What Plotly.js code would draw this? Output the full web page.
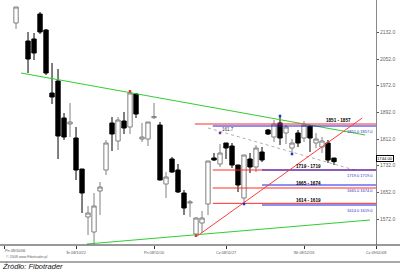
<!DOCTYPE html>
<html><head><meta charset="utf-8">
<script src="https://cdn.plot.ly/plotly-3.0.1.min.js"></script>
<style>html,body{margin:0;padding:0;background:#fff}#chart{width:400px;height:277px}</style>
</head><body><div id="chart"></div>
<script>
// trading-day slot index for each candle
const slots = [0,2,3,4,5,6,7,8,9,10,11,12,13,14,15,16,17,18,19,20,21,22,23,24,25,26,27,28,29,30,31,32,33,34,35,36,37,38,39,40,41,42,43,44,45,46,47,48,49,50,51,52,53];
const opens  = [2160,2106,2112,2187,2139,1950,1986,1875,1857,1815,1722,1578,1533,1656,1719,1860,1806,1866,1848,1947,1812,1812,1876,1854,1677,1752,1719,1650,1620,1527,1560,1617,1755,1737,1800,1791,1734,1635,1752,1728,1773,1839,1818,1860,1830,1785,1830,1815,1851,1800,1788,1800,1755];
const highs  = [2208,2133,2130,2193,2142,2040,2022,1890,1920,1848,1722,1611,1650,1683,1809,1878,1878,1893,1953,1950,1860,1863,1920,1863,1713,1758,1737,1659,1629,1578,1596,1746,1770,1797,1800,1800,1734,1764,1770,1794,1788,1842,1869,1878,1854,1812,1839,1866,1854,1830,1818,1809,1755];
const lows   = [2142,2010,2049,2127,2004,1917,1752,1809,1818,1689,1590,1524,1496,1584,1704,1776,1779,1827,1827,1875,1803,1791,1872,1688,1635,1710,1650,1584,1578,1524,1530,1584,1746,1728,1752,1725,1653,1620,1710,1713,1743,1824,1803,1794,1797,1770,1788,1803,1773,1785,1770,1740,1734];
const closes = [2208,2052,2070,2133,2010,1938,1821,1818,1863,1719,1650,1590,1611,1668,1800,1827,1869,1845,1950,1887,1818,1863,1879,1689,1698,1713,1653,1605,1623,1575,1575,1746,1749,1770,1785,1734,1674,1764,1728,1785,1749,1827,1857,1815,1848,1800,1800,1854,1815,1812,1806,1749,1744];

// x-axis date labels (slot positions) and right-axis price ticks
const dateTickSlots = [-2,10,23,35,48,60];
const dateTickLabels = ['Pn 08/10/06','Śr 08/10/22','Pn 08/11/10','Cz 08/11/27','Wt 08/12/16','Cz 09/01/08'];
const priceTicks = [2132,2052,1972,1892,1812,1732,1652,1572];
const lastPrice = 1744;

// trendlines: [x0, y0, x1, y1]
const upperGreen = [0.83, 2010, 58.2, 1824];
const lowerGreen = [11.8, 1497, 59, 1569];
const redRising  = [30.2, 1521, 57.7, 1875];
const grayDotted = [32, 1845, 57, 1716];

// Fibonacci zones: label, red level, red start, blue level, blue start, label position
const zoneLabels = ['1851 - 1857','1719 - 1719','1665 - 1674','1614 - 1619'];
const redLevels  = [1857,1719,1665,1619];
const redStarts  = [29.8,32.8,32.8,32.8];
const blueLevels = [1851,1719,1674,1614];
const blueStarts = [32.8,41,41,41];
const zoneLabelX = [53.7,48.7,48.7,48.7];
const zoneLabelY = [1869,1729,1680,1629];
const sideLabels = ['1851.0 1857.0','1719.0 1719.0','1665.0 1674.0','1614.0 1619.0'];

// pivot markers
const pivotX = [19,44,38,46,34,30];
const pivotY = [1955,1881,1617,1767,1830,1522];
const pivotC = ['#e03030','#2030d0','#2030d0','#2030d0','#8030a0','#e03030'];

const XR = 60;
const traces = [];
traces.push({type:'candlestick', x:slots, open:opens, high:highs, low:lows, close:closes,
  increasing:{line:{color:'#808080',width:1}, fillcolor:'#ffffff'},
  decreasing:{line:{color:'#000000',width:1}, fillcolor:'#000000'},
  whiskerwidth:0, hoverinfo:'skip', showlegend:false});

function seg(a, color, dash, w){
  traces.push({type:'scatter', mode:'lines', x:[a[0],a[2]], y:[a[1],a[3]],
    line:{color:color, width:w||1, dash:dash||'solid'}, hoverinfo:'skip', showlegend:false});
}
seg(upperGreen,'#33cc33');
seg(lowerGreen,'#33cc33');
seg(grayDotted,'#b0b0b0','dot');
for(let i=0;i<redLevels.length;i++){
  seg([redStarts[i],redLevels[i],XR,redLevels[i]],'#ff2a2a');
  seg([blueStarts[i],blueLevels[i],XR,blueLevels[i]],'#2020dd');
}
seg(redRising,'#ff3b3b');
traces.push({type:'scatter', mode:'markers', x:pivotX, y:pivotY,
  marker:{symbol:'square', size:2.5, color:pivotC}, hoverinfo:'skip', showlegend:false});

const ann = [];
for(let i=0;i<zoneLabels.length;i++){
  ann.push({x:zoneLabelX[i], y:zoneLabelY[i], xref:'x', yref:'y', text:'<b>'+zoneLabels[i]+'</b>',
    showarrow:false, font:{family:'Arial', size:4.6, color:'#000'}, xanchor:'center', yanchor:'middle'});
  ann.push({x:1, y:blueLevels[i], xref:'paper', yref:'y', text:sideLabels[i], showarrow:false,
    xanchor:'right', yanchor:'top', yshift:-0.5, xshift:-1, font:{family:'Arial', size:4, color:'#3030c0'}});
}
ann.push({x:35.4, y:1840, xref:'x', yref:'y', text:'161.7', showarrow:false,
  font:{family:'Arial', size:4.5, color:'#333'}, xanchor:'center', yanchor:'middle'});
ann.push({x:1, y:lastPrice, xref:'paper', yref:'y', text:lastPrice.toFixed(2), showarrow:false,
  xanchor:'left', yanchor:'middle', xshift:0, yshift:3, bgcolor:'#fff', bordercolor:'#000', borderwidth:1, borderpad:0,
  font:{family:'Arial', size:4.2, color:'#000'}});
ann.push({x:0, y:0, xref:'paper', yref:'paper', text:dateTickLabels[0], showarrow:false,
  xanchor:'left', yanchor:'top', xshift:0, yshift:-1.5, font:{family:'Arial', size:3.8, color:'#555'}});
ann.push({x:0, y:0, xref:'paper', yref:'paper', text:'© 2008 www.Fibotrader.pl', showarrow:false,
  xanchor:'left', yanchor:'middle', xshift:1, yshift:-12, font:{family:'Arial', size:3.6, color:'#666'}});
ann.push({x:0, y:0, xref:'paper', yref:'paper', text:'<i>Źródło: Fibotrader</i>', showarrow:false,
  xanchor:'left', yanchor:'middle', xshift:-3, yshift:-21.5, font:{family:'Arial', size:7.5, color:'#111'}});

const tickText = dateTickLabels.slice(); tickText[0] = '';
const layout = {
  width:400, height:277, margin:{l:3, r:24, t:0, b:32},
  paper_bgcolor:'#fff', plot_bgcolor:'#fff', showlegend:false, boxgap:0.15, boxgroupgap:0.15,
  xaxis:{range:[-2.17, XR], showgrid:false, zeroline:false, showline:false, rangeslider:{visible:false},
    tickmode:'array', tickvals:dateTickSlots, ticktext:tickText, ticks:'outside', ticklen:3, tickcolor:'#333',
    tickfont:{family:'Arial', size:3.8, color:'#555'}, automargin:false, fixedrange:true},
  yaxis:{range:[1494, 2229], side:'right', showgrid:false, zeroline:false, showline:true, linecolor:'#888', linewidth:1,
    tickmode:'array', tickvals:priceTicks, ticktext:priceTicks.map(v=>v.toFixed(1)), ticks:'outside', ticklen:2,
    tickcolor:'#555', tickfont:{family:'Arial', size:5, color:'#666'}, automargin:false, fixedrange:true},
  shapes:[
    {type:'line', xref:'paper', yref:'paper', x0:-0.01, x1:1.07, y0:0, y1:0, line:{color:'#333', width:1}},
    {type:'line', xref:'paper', yref:'paper', x0:-0.01, x1:1.07, y0:-0.0694, y1:-0.0694, line:{color:'#555', width:1}}
  ],
  annotations:ann
};
Plotly.newPlot('chart', traces, layout, {displayModeBar:false, staticPlot:true});
</script></body></html>
